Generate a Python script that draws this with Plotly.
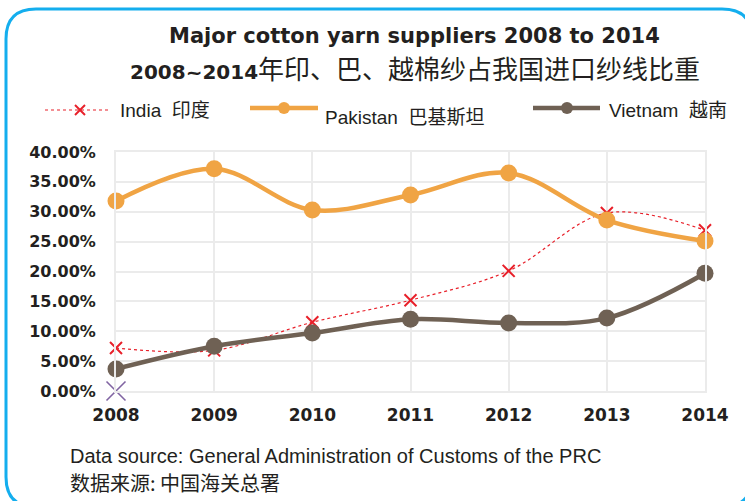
import plotly.graph_objects as go

# ---------------- data ----------------
years = [2008, 2009, 2010, 2011, 2012, 2013, 2014]
india = [7.2, 6.8, 11.5, 15.2, 20.1, 29.8, 26.9]
pakistan = [31.8, 37.2, 30.3, 32.8, 36.5, 28.6, 25.1]
vietnam = [3.7, 7.5, 9.7, 12.0, 11.4, 12.2, 19.7]
extra_year = [2008]
extra_val = [0.0]
y_ticks = [0, 5, 10, 15, 20, 25, 30, 35, 40]

series_names = ["India&nbsp;&nbsp;印度", "Pakistan&nbsp;&nbsp;巴基斯坦", "Vietnam&nbsp;&nbsp;越南"]
title_en = "Major cotton yarn suppliers 2008 to 2014"
title_zh_num = "2008~2014"
title_zh = "年印、巴、越棉纱占我国进口纱线比重"
source_en = "Data source: General Administration of Customs of the PRC"
source_zh = "数据来源: 中国海关总署"

# ---------------- layout constants ----------------
W, H = 745, 501
L, R, T, B = 116, 40, 152, 110
PW, PH = W - L - R, H - T - B

def px(x):
    return (x - L) / PW

def py(y):
    return (H - B - y) / PH

RED = "#E8202A"
ORANGE = "#F0A444"
BROWN = "#6F6154"
PURPLE = "#8064A2"
BLUE = "#14AEEE"
TXT = "#231F20"
GRID = "#EBEBEB"
LEG_FONT = "Liberation Sans, Noto Sans CJK SC, sans-serif"

fig = go.Figure()

fig.add_trace(go.Scatter(
    x=years, y=[v / 100 for v in india], mode="lines+markers", name="India",
    line=dict(color=RED, width=1.2, dash="dot", shape="spline"),
    marker=dict(symbol="x-thin", size=12, line=dict(color=RED, width=2)),
    cliponaxis=False, showlegend=False))
fig.add_trace(go.Scatter(
    x=years, y=[v / 100 for v in pakistan], mode="lines+markers", name="Pakistan",
    line=dict(color=ORANGE, width=4.5, shape="spline"),
    marker=dict(size=17, color=ORANGE),
    cliponaxis=False, showlegend=False))
fig.add_trace(go.Scatter(
    x=years, y=[v / 100 for v in vietnam], mode="lines+markers", name="Vietnam",
    line=dict(color=BROWN, width=4.5, shape="spline"),
    marker=dict(size=17, color=BROWN),
    cliponaxis=False, showlegend=False))
fig.add_trace(go.Scatter(
    x=extra_year, y=extra_val, mode="markers",
    marker=dict(symbol="x-thin", size=19, line=dict(color=PURPLE, width=1.6)),
    cliponaxis=False, showlegend=False))

shapes = []
annotations = []

# rounded border
x0, y0, x1, y1, r = 6, 9, 752, 507, 30
path = (f"M {px(x0)},{py(y0 + r)} "
        f"Q {px(x0)},{py(y0)} {px(x0 + r)},{py(y0)} "
        f"L {px(x1 - r)},{py(y0)} "
        f"Q {px(x1)},{py(y0)} {px(x1)},{py(y0 + r)} "
        f"L {px(x1)},{py(y1 - r)} "
        f"Q {px(x1)},{py(y1)} {px(x1 - r)},{py(y1)} "
        f"L {px(x0 + r)},{py(y1)} "
        f"Q {px(x0)},{py(y1)} {px(x0)},{py(y1 - r)} Z")
shapes.append(dict(type="path", xref="paper", yref="paper", path=path,
                   line=dict(color=BLUE, width=3), layer="below"))

# manual legend
leg = [
    (45, 110, 110, 80, RED, "dot", 1.2, "x", 118, 110, series_names[0]),
    (250, 108, 318, 284, ORANGE, "solid", 4.5, "o", 323, 117, series_names[1]),
    (533, 108, 600, 567, BROWN, "solid", 4.5, "o", 607, 110, series_names[2]),
]
for lx0, ly, lx1, mx, col, dash, lw, sym, tx, ty, name in leg:
    shapes.append(dict(type="line", xref="paper", yref="paper",
                       x0=px(lx0), x1=px(lx1), y0=py(ly), y1=py(ly),
                       line=dict(color=col, width=lw, dash=dash)))
    if sym == "o":
        rr = 6
        shapes.append(dict(type="circle", xref="paper", yref="paper",
                           x0=px(mx - rr), x1=px(mx + rr), y0=py(ly - rr), y1=py(ly + rr),
                           fillcolor=col, line=dict(color=col, width=0)))
    else:
        d = 5
        for a, b in ((-d, -d), (-d, d)):
            shapes.append(dict(type="line", xref="paper", yref="paper",
                               x0=px(mx + a), x1=px(mx - a), y0=py(ly + b), y1=py(ly - b),
                               line=dict(color=col, width=2)))
    annotations.append(dict(xref="paper", yref="paper", x=px(tx), y=py(ty),
                            xanchor="left", yanchor="middle", showarrow=False,
                            text=name, font=dict(family=LEG_FONT, size=19, color=TXT)))

# titles
annotations.append(dict(xref="paper", yref="paper", x=px(414), y=py(36),
                        xanchor="center", yanchor="middle", showarrow=False,
                        text=f"<b>{title_en}</b>",
                        font=dict(family="DejaVu Sans", size=21, color=TXT)))
annotations.append(dict(xref="paper", yref="paper", x=px(415), y=py(67),
                        xanchor="center", yanchor="middle", showarrow=False,
                        text=(f"<span style='font-family:DejaVu Sans;font-weight:bold;font-size:20px'>{title_zh_num}</span>"
                              f"<span style='font-family:Noto Sans CJK SC;font-size:26px'>{title_zh}</span>"),
                        font=dict(family="Noto Sans CJK SC", size=26, color=TXT)))

# source
annotations.append(dict(xref="paper", yref="paper", x=px(68), y=py(456),
                        xanchor="left", yanchor="middle", showarrow=False,
                        text=source_en, font=dict(family=LEG_FONT, size=20, color=TXT)))
annotations.append(dict(xref="paper", yref="paper", x=px(68), y=py(482),
                        xanchor="left", yanchor="middle", showarrow=False,
                        text=source_zh, font=dict(family="Noto Sans CJK SC", size=20, color=TXT)))

fig.update_layout(
    width=W, height=H, autosize=False,
    margin=dict(l=L, r=R, t=T, b=B, pad=0),
    paper_bgcolor="white", plot_bgcolor="white",
    shapes=shapes, annotations=annotations, showlegend=False,
    xaxis=dict(range=[2008, 2014], tickvals=years, ticktext=[str(y) for y in years],
               showgrid=True, gridcolor=GRID, gridwidth=2, zeroline=False,
               showline=True, linecolor=GRID, linewidth=2, mirror=True,
               ticks="", ticklabelstandoff=8,
               tickfont=dict(family="DejaVu Sans", size=17, color=TXT, weight="bold")),
    yaxis=dict(range=[0, 0.40], tickvals=[v / 100 for v in y_ticks], tickformat=".2%",
               showgrid=True, gridcolor=GRID, gridwidth=2, zeroline=False,
               showline=True, linecolor=GRID, linewidth=2, mirror=True,
               ticks="", ticklabelstandoff=15,
               tickfont=dict(family="DejaVu Sans", size=16, color=TXT, weight="bold")),
)

fig.write_html("out.html")
